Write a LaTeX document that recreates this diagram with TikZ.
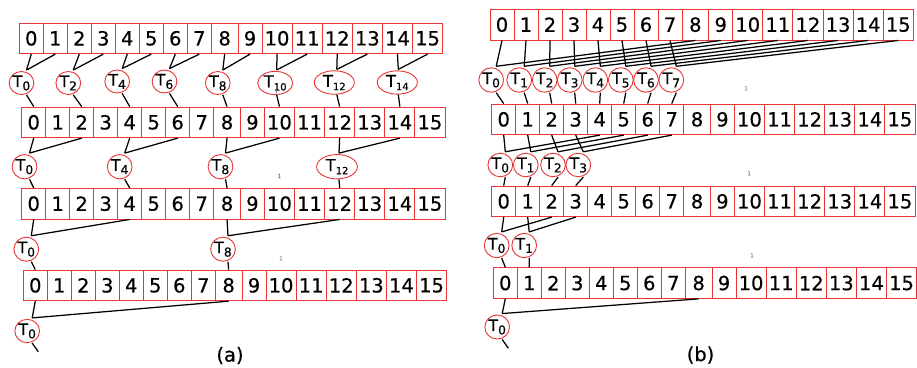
\documentclass[tikz,border=0pt]{standalone}
\usepackage{fontspec}
\setmainfont{DejaVu Sans}[FakeBold=0.5]
\usetikzlibrary{shapes.geometric,calc}
\definecolor{boxred}{RGB}{232,52,52}
\newcommand\Tsub[1]{\ifnum#1>9\relax
  {\fontsize{16.5}{17}\selectfont T}\raisebox{-3.2pt}{\fontsize{10}{10}\selectfont #1}%
 \else
  {\fontsize{15.8}{16}\selectfont T}\raisebox{-3.4pt}{\fontsize{12.3}{12}\selectfont #1}%
 \fi}
\newcommand\cellrow[3]{%
 \foreach \i/\off/\cw in {0/0/24,1/24/24,2/48/24,3/72/24,4/96/24,5/120/24,6/144/24,7/168/24,8/192/26.7,9/218.7/24,10/242.7/30.1,11/272.8/30.1,12/302.9/30.1,13/333/30.1,14/363.1/30.1,15/393.2/30.1}
   {\node[cellbox, minimum width=\cw pt] (#1-\i) at ({#2+\off+\cw/2},{#3+15.35}) {\i};}}
\begin{document}
\begin{tikzpicture}[x=1pt,y=-1pt,
  cellbox/.style={draw=boxred, line width=0.9pt, inner sep=0pt, minimum height=30.7pt, font=\fontsize{19.5}{20}\selectfont},
  tnode/.style={draw=boxred, line width=0.9pt, ellipse, inner sep=0pt},
  conn/.style={line width=1.25pt, black},
  tinylab/.style={font=\fontsize{5.5}{6}\selectfont, text=gray, inner sep=0pt},
  caplab/.style={font=\fontsize{19.5}{20}\selectfont, inner sep=0pt}]
\useasboundingbox (0,0) rectangle (917,367);

% ---------- rows of cells ----------
\cellrow{a1}{19.3}{23}
\cellrow{a2}{21.7}{107}
\cellrow{a3}{21.7}{188.3}
\cellrow{a4}{23.3}{270}
\cellrow{b1}{490}{9.3}
\cellrow{b2}{491.7}{104}
\cellrow{b3}{491.7}{186}
\cellrow{b4}{493.3}{267.7}

% ---------- T nodes, panel (a) ----------
\foreach \k/\px/\py/\ew/\eh in {0/21.5/83/24.5/23, 2/68.3/83/24.5/23, 4/117.2/81.5/24.5/23, 6/164.5/81.5/24.5/23, 8/217.8/83/24.5/23, 10/275.2/83/35/23.3, 12/334.3/82.5/40/23.5, 14/397.3/82.5/40/23.3}
  {\node[tnode, minimum width=\ew pt, minimum height=\eh pt] (ta1-\k) at (\px,\py) {\Tsub{\k}};}
\foreach \k/\px/\ew in {0/24.5/24.5, 4/119.7/24.5, 8/220.5/24.5, 12/337/40.7}
  {\node[tnode, minimum width=\ew pt, minimum height=24.3pt] (ta2-\k) at (\px,166.7) {\Tsub{\k}};}
\foreach \k/\px in {0/26.3, 8/223}
  {\node[tnode, minimum width=24.5pt, minimum height=24pt] (ta3-\k) at (\px,249.2) {\Tsub{\k}};}
\node[tnode, minimum width=24.3pt, minimum height=23.3pt] (ta4-0) at (27.2,331) {\Tsub{0}};

% ---------- T nodes, panel (b) ----------
\foreach \k/\px in {0/491.2, 1/519.2, 2/544.7, 3/569.7, 4/595.3, 5/620.8, 6/646, 7/671.3}
  {\node[tnode, minimum width=23.5pt, minimum height=24.5pt] (tb1-\k) at (\px,80) {\Tsub{\k}};}
\foreach \k/\px in {0/500.3, 1/525.8, 2/553, 3/578.3}
  {\node[tnode, minimum width=24pt, minimum height=23.5pt] (tb2-\k) at (\px,165) {\Tsub{\k}};}
\foreach \k/\px in {0/496.7, 1/524.2}
  {\node[tnode, minimum width=24.5pt, minimum height=24.3pt] (tb3-\k) at (\px,245.5) {\Tsub{\k}};}
\node[tnode, minimum width=24.3pt, minimum height=24pt] (tb4-0) at (497.2,327) {\Tsub{0}};

% ---------- connectors, panel (a) ----------
\foreach \k/\dx in {0/5,2/5,4/5,6/5,8/5,10/1.5,12/2.5,14/1}{
  \pgfmathtruncatemacro\kk{\k+1}
  \draw[conn] (a1-\k.south) -- ([xshift=\dx pt,yshift=1pt]ta1-\k.north);
  \draw[conn] (a1-\kk.south) -- ([xshift=\dx pt,yshift=1pt]ta1-\k.north);
  \draw[conn] ([xshift=\dx pt]ta1-\k.south) -- (a2-\k.north);
}
\foreach \k/\dx in {0/5,4/5,8/5,12/2}{
  \pgfmathtruncatemacro\kk{\k+2}
  \draw[conn] (a2-\k.south) -- ([xshift=\dx pt,yshift=1pt]ta2-\k.north);
  \draw[conn] (a2-\kk.south) -- ([xshift=\dx pt,yshift=1pt]ta2-\k.north);
  \draw[conn] ([xshift=\dx pt]ta2-\k.south) -- (a3-\k.north);
}
\foreach \k in {0,8}{
  \pgfmathtruncatemacro\kk{\k+4}
  \draw[conn] (a3-\k.south) -- ([xshift=5pt,yshift=1pt]ta3-\k.north);
  \draw[conn] (a3-\kk.south) -- ([xshift=5pt,yshift=1pt]ta3-\k.north);
  \draw[conn] ([xshift=5pt]ta3-\k.south) -- (a4-\k.north);
}
\draw[conn] (a4-0.south) -- ([xshift=5pt,yshift=1pt]ta4-0.north);
\draw[conn] (a4-8.south) -- ([xshift=5pt,yshift=1pt]ta4-0.north);
\coordinate (enda) at (38.3,351.7);
\draw[conn] ([xshift=5pt]ta4-0.south) -- (enda);

% ---------- connectors, panel (b) ----------
\foreach \k in {0,...,7}{
  \pgfmathtruncatemacro\kk{\k+8}
  \draw[conn] (b1-\k.south) -- ([xshift=5pt,yshift=1pt]tb1-\k.north);
  \draw[conn] (b1-\kk.south) -- ([xshift=5pt,yshift=1pt]tb1-\k.north);
  \draw[conn] ([xshift=5pt]tb1-\k.south) -- (b2-\k.north);
}
\foreach \k in {0,...,3}{
  \pgfmathtruncatemacro\kk{\k+4}
  \draw[conn] (b2-\k.south) -- ([xshift=5pt,yshift=1pt]tb2-\k.north);
  \draw[conn] (b2-\kk.south) -- ([xshift=5pt,yshift=1pt]tb2-\k.north);
  \draw[conn] ([xshift=5pt]tb2-\k.south) -- (b3-\k.north);
}
\foreach \k in {0,1}{
  \pgfmathtruncatemacro\kk{\k+2}
  \draw[conn] (b3-\k.south) -- ([xshift=5pt,yshift=1pt]tb3-\k.north);
  \draw[conn] (b3-\kk.south) -- ([xshift=5pt,yshift=1pt]tb3-\k.north);
  \draw[conn] ([xshift=5pt]tb3-\k.south) -- (b4-\k.north);
}
\draw[conn] (b4-0.south) -- ([xshift=5pt,yshift=1pt]tb4-0.north);
\draw[conn] (b4-8.south) -- ([xshift=5pt,yshift=1pt]tb4-0.north);
\coordinate (endb) at (508.3,348.3);
\draw[conn] ([xshift=5pt]tb4-0.south) -- (endb);

% ---------- tiny page marks ----------
\node[tinylab] (m1) at (276.5,92.5) {1};
\node[tinylab] (m2) at (279.3,176) {1};
\node[tinylab] (m3) at (281,258.3) {1};
\node[tinylab] (m4) at (746,88.3) {1};
\node[tinylab] (m5) at (749.3,173.3) {1};
\node[tinylab] (m6) at (752,255.3) {1};

% ---------- captions ----------
\node[caplab] (capa) at (230,355.5) {(a)};
\node[caplab] (capb) at (700.5,355) {(b)};
\end{tikzpicture}
\end{document}
